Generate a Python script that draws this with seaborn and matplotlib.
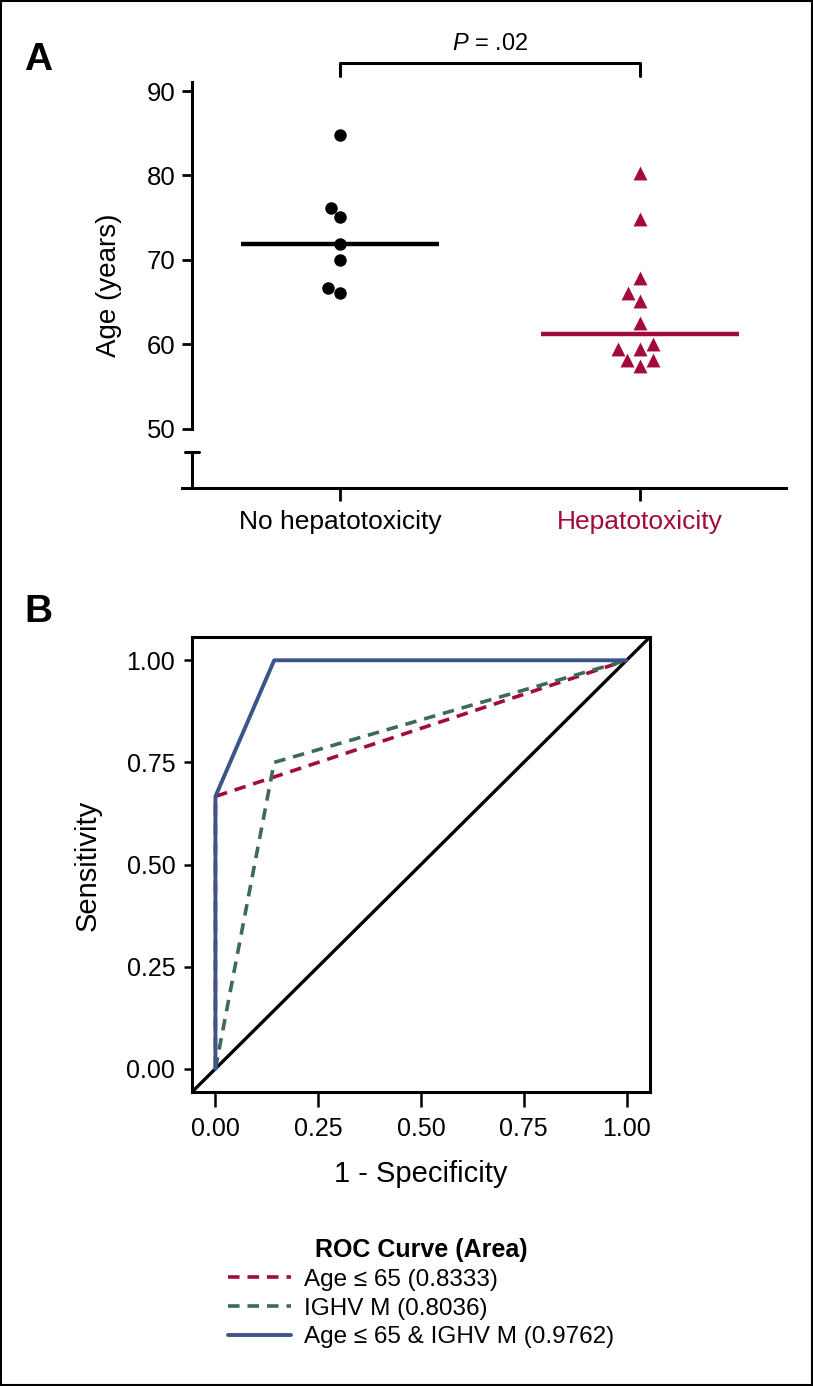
import numpy as np
import pandas as pd
import seaborn as sns
import matplotlib.pyplot as plt
from matplotlib.patches import Rectangle

sns.set_style('ticks')
plt.rcParams['font.family'] = ['Liberation Sans', 'DejaVu Sans']
plt.rcParams['mathtext.fontset'] = 'custom'
plt.rcParams['mathtext.it'] = 'Liberation Sans:italic'
plt.rcParams['mathtext.rm'] = 'Liberation Sans'
for k in ['text.color', 'axes.labelcolor', 'xtick.color', 'ytick.color', 'axes.edgecolor']:
    plt.rcParams[k] = 'black'

# panel A data
groups = ['No hepatotoxicity', 'Hepatotoxicity']
age_no_hep = [84.8, 76.2, 75.1, 71.9, 70.0, 66.7, 66.1]
age_hep = [80.3, 74.8, 67.9, 66.1, 65.1, 62.5, 60.0, 59.5, 59.4, 58.2, 58.2, 57.5]

# panel B data (ROC curves)
fpr_age = [0, 0, 1]
tpr_age = [0, 0.6667, 1]
fpr_ighv = [0, 0.1429, 1]
tpr_ighv = [0, 0.75, 1]
fpr_comb = [0, 0, 0.1429, 1]
tpr_comb = [0, 0.6667, 1, 1]
roc_labels = ['Age \u2264 65 (0.8333)', 'IGHV M (0.8036)', 'Age \u2264 65 & IGHV M (0.9762)']

red = '#A20B3C'
green = '#3D6B56'
blue = '#3B5589'

W, H = 813, 1386
fig = plt.figure(figsize=(W / 100, H / 100), dpi=100)

# ---------- panel A ----------
axA = fig.add_axes([192 / W, 1 - 488 / H, 594 / W, 406 / H])
df = pd.DataFrame({'group': [groups[0]] * len(age_no_hep) + [groups[1]] * len(age_hep),
                   'age': age_no_hep + age_hep})

sns.swarmplot(data=df[df.group == groups[0]], x='group', y='age', order=groups,
              color='black', marker='o', size=9, ax=axA)
sns.swarmplot(data=df[df.group == groups[1]], x='group', y='age', order=groups,
              color=red, marker='^', size=10, ax=axA)

for i, (vals, c) in enumerate([(age_no_hep, 'black'), (age_hep, red)]):
    axA.hlines(np.median(vals), i - 0.33, i + 0.33, color=c, lw=3.2, zorder=1)

axA.set_xlim(-0.493, 1.487)
axA.set_ylim(43, 91.07)
axA.set_xlabel('')
axA.set_ylabel('')
axA.set_yticks([50, 60, 70, 80, 90])
axA.spines['top'].set_visible(False)
axA.spines['right'].set_visible(False)
axA.spines['left'].set_bounds(50, 91.07)
axA.spines['bottom'].set_bounds(-0.527, 1.487)
for s in ['left', 'bottom']:
    axA.spines[s].set_linewidth(2.2)
axA.tick_params(axis='y', length=7, width=2, labelsize=18.5, pad=5)
axA.tick_params(axis='x', length=9, width=2, labelsize=19, pad=7)
axA.get_xticklabels()[1].set_color(red)

# broken axis lower segment
tr = axA.get_yaxis_transform()
axA.plot([0, 0], [43, 47.3], color='black', lw=2.2, transform=tr, clip_on=False)
axA.plot([-0.0117, 0.0117], [47.3, 47.3], color='black', lw=2.2, transform=tr, clip_on=False)

# significance bracket
axA.plot([0, 0, 1, 1], [91.8, 93.3, 93.3, 91.8], color='black', lw=2.2, clip_on=False)
axA.text(0.5, 95.6, r'$\it{P}$ = .02', ha='center', va='center', fontsize=17)

fig.text(109 / W, 1 - 285 / H, 'Age (years)', rotation=90, ha='center', va='center', fontsize=20)
fig.text(38 / W, 1 - 60 / H, 'A', ha='center', va='center', fontsize=28, fontweight='bold')

# ---------- panel B ----------
axB = fig.add_axes([192 / W, 1 - 1092 / H, 458 / W, 455 / H])
axB.axline((0, 0), slope=1, color='black', lw=2.4)
sns.lineplot(x=fpr_age, y=tpr_age, sort=False, estimator=None, color=red, lw=2.6, ax=axB)
sns.lineplot(x=fpr_ighv, y=tpr_ighv, sort=False, estimator=None, color=green, lw=2.6, ax=axB)
sns.lineplot(x=fpr_comb, y=tpr_comb, sort=False, estimator=None, color=blue, lw=2.8, ax=axB)
lines = axB.get_lines()
line_age, line_ighv, line_comb = lines[1], lines[2], lines[3]
line_ighv.set_dashes([3.2, 2.2])
line_age.set_dashes([3.2, 2.2])

axB.set_xlim(-0.057, 1.057)
axB.set_ylim(-0.057, 1.057)
ticks = [0, 0.25, 0.5, 0.75, 1.0]
axB.set_xticks(ticks)
axB.set_yticks(ticks)
axB.set_xticklabels(['0.00', '0.25', '0.50', '0.75', '1.00'])
axB.set_yticklabels(['0.00', '0.25', '0.50', '0.75', '1.00'])
for s in axB.spines.values():
    s.set_linewidth(2.2)
axB.tick_params(axis='y', length=6, width=1.8, labelsize=18, pad=6)
axB.tick_params(axis='x', length=11, width=1.8, labelsize=18, pad=7)

fig.text(88 / W, 1 - 865 / H, 'Sensitivity', rotation=90, ha='center', va='center', fontsize=21)
fig.text(421 / W, 1 - 1174 / H, '1 - Specificity', ha='center', va='center', fontsize=21)
fig.text(38 / W, 1 - 612 / H, 'B', ha='center', va='center', fontsize=28, fontweight='bold')

fig.legend(handles=[line_age, line_ighv, line_comb], labels=roc_labels,
           title='ROC Curve (Area)', loc='upper center',
           bbox_to_anchor=(421 / W, 1 - 1216 / H), frameon=False,
           fontsize=17.5, title_fontproperties={'weight': 'bold', 'size': 18},
           handlelength=2.6, handletextpad=0.5, labelspacing=0.28)

fig.patches.append(Rectangle((0.0015, 0.001), 0.997, 0.998, fill=False, lw=1.5,
                             edgecolor='black', transform=fig.transFigure))

fig.savefig('out.png', dpi=100)
